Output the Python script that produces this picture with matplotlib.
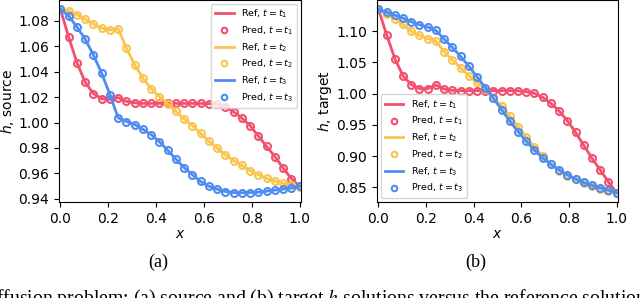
import numpy as np
import matplotlib
matplotlib.use('Agg')
import matplotlib.pyplot as plt

# malla espacial (30 punts entre 0 i 1)
x = np.linspace(0, 1, 30)

# (a) source
src_t1 = [1.089, 1.067, 1.047, 1.0317, 1.0227, 1.0187, 1.0182, 1.0195, 1.0166, 1.0155,
          1.015, 1.015, 1.015, 1.015, 1.015, 1.015, 1.015, 1.015, 1.0148, 1.0143,
          1.0125, 1.0085, 1.0035, 0.9976, 0.9894, 0.9812, 0.9733, 0.9643, 0.956, 0.950]
src_t2 = [1.089, 1.0877, 1.0848, 1.081, 1.0774, 1.0742, 1.0726, 1.0737, 1.0583, 1.0454,
          1.0348, 1.0266, 1.0203, 1.0148, 1.0087, 1.0029, 0.9976, 0.9915, 0.9854, 0.9799,
          0.9746, 0.9701, 0.9664, 0.9622, 0.959, 0.9561, 0.954, 0.9522, 0.9508, 0.949]
src_t3 = [1.089, 1.0837, 1.075, 1.0655, 1.053, 1.0388, 1.0219, 1.0037, 1.0008, 0.9984,
          0.9947, 0.9905, 0.9849, 0.9783, 0.9712, 0.9646, 0.959, 0.9537, 0.950, 0.9477,
          0.9458, 0.945, 0.9448, 0.945, 0.9453, 0.9461, 0.9469, 0.9477, 0.9487, 0.950]

# (b) target
tgt_t1 = [1.135, 1.094, 1.0559, 1.0282, 1.0144, 1.008, 1.008, 1.0138, 1.0074, 1.0053,
          1.0048, 1.0048, 1.0048, 1.0048, 1.0048, 1.0048, 1.0048, 1.0045, 1.0032, 1.0005,
          0.9941, 0.9846, 0.9723, 0.9569, 0.9383, 0.9176, 0.8968, 0.8782, 0.859, 0.8415]
tgt_t2 = [1.135, 1.127, 1.1197, 1.1106, 1.0995, 1.0931, 1.0878, 1.084, 1.067, 1.0537,
          1.0415, 1.0287, 1.018, 1.008, 0.9926, 0.9809, 0.9644, 0.9473, 0.9309, 0.9144,
          0.900, 0.8872, 0.8771, 0.8691, 0.8628, 0.8564, 0.8521, 0.8479, 0.8447, 0.8415]
tgt_t3 = [1.135, 1.1303, 1.1255, 1.1207, 1.1149, 1.1101, 1.1064, 1.101, 1.0872, 1.0739,
          1.0596, 1.0441, 1.0271, 1.0096, 0.9926, 0.9745, 0.9559, 0.9394, 0.9239, 0.9096,
          0.8973, 0.8872, 0.8782, 0.8702, 0.8638, 0.858, 0.8537, 0.8495, 0.8457, 0.8415]

colors = ['#f2506e', '#fac54f', '#4f8cf2']
labels_t = ['t_1', 't_2', 't_3']


def plotpanel(ax, series, ylabel, loc):
    for y, c, t in zip(series, colors, labels_t):
        ax.plot(x, y, '-', color=c, lw=2, label='Ref, $t=%s$' % t)
        ax.plot(x, y, 'o', mfc='none', mec=c, mew=1.5, ms=5, label='Pred, $t=%s$' % t)
    ax.set_xlim(-0.006, 1.006)
    ax.set_xticks([0.0, 0.2, 0.4, 0.6, 0.8, 1.0])
    ax.set_xlabel('$x$', fontsize=10, labelpad=1)
    ax.set_ylabel(ylabel, fontsize=10, labelpad=2)
    ax.tick_params(labelsize=10)
    ax.legend(loc=loc, fontsize=6.8, markerscale=0.8, handlelength=2.0,
              borderaxespad=0.4, labelspacing=0.45)


fig = plt.figure(figsize=(6.4, 2.98), dpi=100)
axA = fig.add_axes([59/640, 1 - 202/298, 242/640, 202/298])
axB = fig.add_axes([377/640, 1 - 202/298, 241/640, 202/298])

plotpanel(axA, [src_t1, src_t2, src_t3], '$h$, source', 'upper right')
axA.set_yticks([0.94, 0.96, 0.98, 1.00, 1.02, 1.04, 1.06, 1.08])
plotpanel(axB, [tgt_t1, tgt_t2, tgt_t3], '$h$, target', 'lower left')
axB.set_yticks([0.85, 0.90, 0.95, 1.00, 1.05, 1.10])

fig.text(158/640, 1 - 262/298, '(a)', family='Liberation Serif', fontsize=13, ha='center', va='center')
fig.text(476/640, 1 - 262/298, '(b)', family='Liberation Serif', fontsize=13, ha='center', va='center')
fig.text(-0.006, 1 - 287/298, 'ffusion problem: (a) source and (b) target $h$ solutions versus the reference solution',
         family='Liberation Serif', math_fontfamily='stix', fontsize=14.2, ha='left', va='top')

fig.savefig('out.png', dpi=100)
